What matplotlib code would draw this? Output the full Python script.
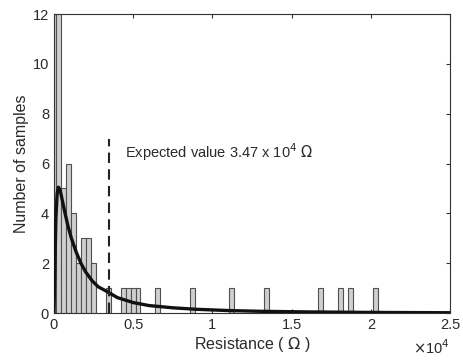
import matplotlib
matplotlib.use("Agg")
import matplotlib.pyplot as plt

plt.rcParams['font.family'] = ['Liberation Sans', 'DejaVu Sans']

# histogram: bin centres (ohm) and counts
bin_width = 312
bin_centres = [0, 312, 624, 936, 1248, 1560, 1872, 2184, 2496,
               3432, 4368, 4680, 4992, 5304, 6552, 8736, 11232, 13416,
               16848, 18096, 18720, 20280]
counts = [12, 12, 5, 6, 4, 2, 3, 3, 2,
          1, 1, 1, 1, 1, 1, 1, 1, 1,
          1, 1, 1, 1]

# fitted distribution
fit_x = [0, 30, 60, 120, 200, 280, 380, 500, 700, 900, 1100, 1400, 1700,
         2000, 2400, 2800, 3300, 4000, 5000, 6000, 7500, 9000, 11000,
         13000, 16000, 20000, 25000]
fit_y = [0, 1.0, 2.0, 3.8, 4.8, 5.05, 4.95, 4.6, 4.0, 3.45, 3.0, 2.45, 2.0,
         1.65, 1.3, 1.05, 0.88, 0.62, 0.42, 0.3, 0.21, 0.15, 0.1,
         0.07, 0.045, 0.025, 0.012]

expected = 3470
expected_top = 7

fig = plt.figure(figsize=(4.63, 3.64), dpi=100)
ax = fig.add_axes([0.1166, 0.140, 0.8554, 0.8215])

ax.bar(bin_centres, counts, width=bin_width, color='#cfcfcf',
       edgecolor='#505050', linewidth=0.8, zorder=2)
ax.plot(fit_x, fit_y, color='#111111', linewidth=2.4, zorder=3)
ax.plot([expected, expected], [0, expected_top], color='#222222',
        linewidth=1.5, linestyle=(0, (5, 3)), zorder=3)

ax.text(4480, 6.45, 'Expected value 3.47 x 10$^4$ $\\Omega$', fontsize=10.5,
        color='#2a2a2a', va='center', ha='left')

ax.set_xlim(0, 25000)
ax.set_ylim(0, 12)
ax.set_xticks([0, 5000, 10000, 15000, 20000, 25000])
ax.set_xticklabels(['0', '0.5', '1', '1.5', '2', '2.5'])
ax.set_yticks(range(0, 13, 2))
ax.tick_params(direction='in', top=True, right=True, length=3,
               labelsize=10.5, colors='#333333', labelcolor='#2a2a2a')
for s in ax.spines.values():
    s.set_color('#333333')
    s.set_linewidth(0.8)

ax.set_xlabel('Resistance ( $\\Omega$ )', fontsize=11.5, color='#2a2a2a',
              labelpad=2)
ax.set_ylabel('Number of samples', fontsize=11.5, color='#2a2a2a',
              labelpad=3)
fig.text(0.972, 0.02, '$\\times$10$^4$', fontsize=10.5, color='#2a2a2a',
         ha='right', va='bottom')

fig.savefig('out.png', dpi=100)
